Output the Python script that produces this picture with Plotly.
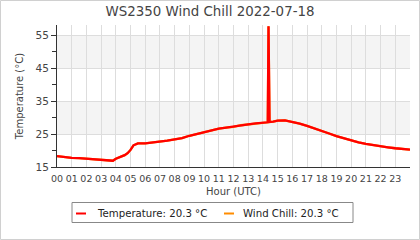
import plotly.graph_objects as go

# ---- data ----
hours = [0, 0.5, 1, 1.5, 2, 2.5, 3, 3.5, 3.8, 4,
         4.3, 4.6, 4.8, 5, 5.2, 5.5, 6, 6.5, 7, 7.5,
         8, 8.5, 9, 9.5, 10, 10.5, 11, 11.5, 12, 12.5,
         13, 13.5, 14, 14.33, 14.38, 14.45, 14.7, 15, 15.5, 16,
         16.5, 17, 17.5, 18, 18.5, 19, 19.5, 20, 20.5, 21,
         21.5, 22, 22.5, 23, 23.5, 24]
temperature = [18.3, 18.0, 17.8, 17.7, 17.5, 17.3, 17.0, 16.9, 16.9, 17.5,
               18.0, 18.6, 19.2, 20.2, 21.6, 22.2, 22.2, 22.4, 22.8, 23.0,
               23.4, 23.8, 24.5, 25.1, 25.7, 26.2, 26.7, 27.0, 27.4, 27.7,
               28.0, 28.3, 28.5, 28.6, 57.8, 28.7, 28.8, 29.1, 29.2, 28.8,
               28.2, 27.5, 26.8, 26.0, 25.2, 24.4, 23.7, 23.0, 22.5, 22.0,
               21.6, 21.2, 21.0, 20.7, 20.5, 20.3]
wind_chill = [18.3, 18.0, 17.8, 17.7, 17.5, 17.3, 17.0, 16.9, 16.9, 17.5,
              18.0, 18.6, 19.2, 20.2, 21.6, 22.2, 22.2, 22.4, 22.8, 23.0,
              23.4, 23.8, 24.5, 25.1, 25.7, 26.2, 26.7, 27.0, 27.2, 27.7,
              28.0, 28.3, 28.5, 28.6, 57.8, 28.7, 28.8, 29.1, 29.2, 28.8,
              28.2, 27.5, 26.8, 26.0, 25.2, 24.4, 23.7, 23.0, 22.5, 22.0,
              21.6, 21.2, 21.0, 20.7, 20.5, 20.3]
hour_ticks = list(range(24))
hour_labels = ["%02d" % h for h in hour_ticks]
y_ticks = [15, 25, 35, 45, 55]
bands = [(25, 35), (45, 55)]
legend_temp = "Temperature: 20.3 °C"
legend_wc = "Wind Chill: 20.3 °C"
title = "WS2350 Wind Chill 2022-07-18"

FONT = "DejaVu Sans"
RED = "#ff0000"
ORANGE = "#ff8c00"

W, H = 420, 240
ml, mr, mt, mb = 57, 10, 25, 73
pw, ph = W - ml - mr, H - mt - mb


def px(xp):
    return (xp - ml) / pw


def py(yp):
    return (H - mb - yp) / ph


fig = go.Figure()
fig.add_trace(go.Scatter(x=hours, y=wind_chill, mode="lines", name=legend_wc,
                         line=dict(color=ORANGE, width=2.3), showlegend=False,
                         hoverinfo="skip"))
fig.add_trace(go.Scatter(x=hours, y=temperature, mode="lines", name=legend_temp,
                         line=dict(color=RED, width=2.3), showlegend=False,
                         hoverinfo="skip"))

for lo, hi in bands:
    fig.add_shape(type="rect", xref="x", yref="y", x0=0, x1=24, y0=lo, y1=hi,
                  fillcolor="#f4f4f4", line=dict(width=0), layer="below")

# figure border
fig.add_shape(type="rect", xref="paper", yref="paper",
              x0=px(0.5), x1=px(W - 0.5), y0=py(H - 0.5), y1=py(0.5),
              line=dict(color="#d0d0d0", width=1), fillcolor="rgba(0,0,0,0)")

# legend box
fig.add_shape(type="rect", xref="paper", yref="paper",
              x0=px(72), x1=px(353), y0=py(222.5), y1=py(202.5),
              line=dict(color="#888888", width=1), fillcolor="white")
ly = 213.5
for (x0, x1, col, tx, label) in [(76, 86, RED, 95, legend_temp),
                                 (224, 234, ORANGE, 241, legend_wc)]:
    fig.add_shape(type="line", xref="paper", yref="paper",
                  x0=px(x0), x1=px(x1), y0=py(ly), y1=py(ly),
                  line=dict(color=col, width=2))
    fig.add_annotation(x=px(tx), y=py(ly), xref="paper", yref="paper",
                       text=label, showarrow=False, xanchor="left",
                       yanchor="middle",
                       font=dict(family=FONT, size=10.2, color="#222"))

fig.update_layout(
    width=W, height=H,
    margin=dict(l=ml, r=mr, t=mt, b=mb, pad=0),
    paper_bgcolor="white", plot_bgcolor="white",
    font=dict(family=FONT, size=10, color="#444"),
    title=dict(text=title, x=0.5, xref="container", xanchor="center",
               y=1 - 11 / H, yanchor="middle",
               font=dict(family=FONT, size=13.4, color="#444")),
    xaxis=dict(range=[0, 24], tickmode="array", tickvals=hour_ticks,
               ticktext=hour_labels, ticks="", showgrid=True,
               gridcolor="#dddddd", gridwidth=1, showline=True,
               linecolor="#333", linewidth=1, zeroline=False,
               tickfont=dict(size=9.5), ticklabelstandoff=3,
               title=dict(text="Hour (UTC)", standoff=4,
                          font=dict(size=10))),
    yaxis=dict(range=[15, 58.2], tickmode="array", tickvals=y_ticks,
               ticks="outside", ticklen=5, tickcolor="#333",
               minor=dict(tickvals=[20, 30, 40, 50], ticks="outside",
                          ticklen=4, tickcolor="#333", showgrid=False),
               showgrid=True, gridcolor="#dddddd", gridwidth=1,
               showline=True, linecolor="#333", linewidth=1, zeroline=False,
               tickfont=dict(size=10.5),
               title=dict(text="Temperature (°C)", standoff=10,
                          font=dict(size=10))),
    showlegend=False,
)

fig.write_html("out.html")
